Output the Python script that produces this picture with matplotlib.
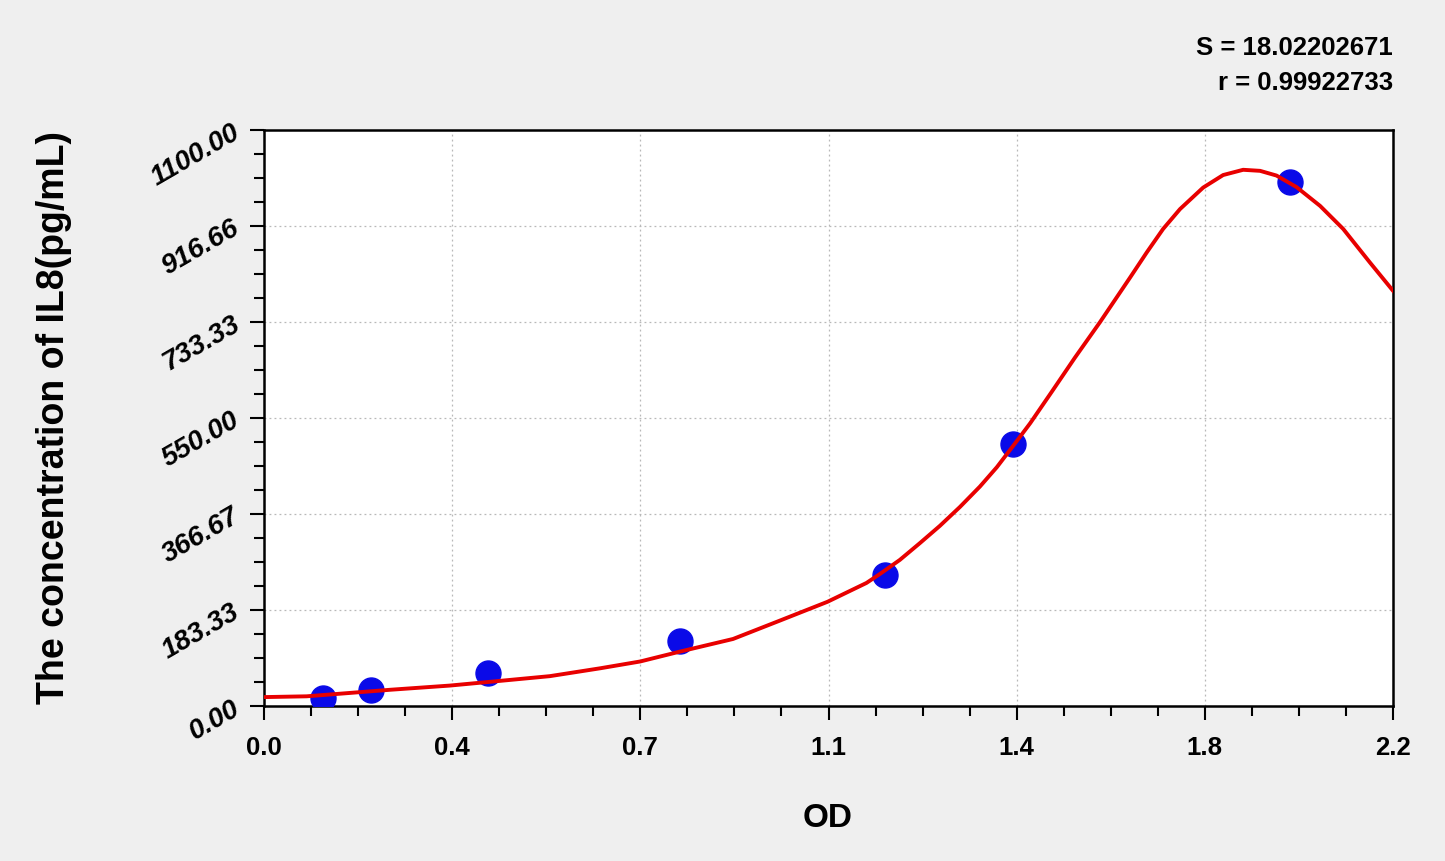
import numpy as np
import matplotlib
matplotlib.use("Agg")
import matplotlib.pyplot as plt
from matplotlib import font_manager
from matplotlib.ticker import AutoMinorLocator, FixedLocator

# standards (OD vs concentration)
od = [0.114, 0.209, 0.436, 0.811, 1.211, 1.459, 1.999]
conc = [15.63, 31.25, 62.5, 125.0, 250.0, 500.0, 1000.0]

# fitted curve
curve_od = [0.0, 0.083, 0.168, 0.246, 0.362, 0.46, 0.557, 0.655, 0.733, 0.811,
            0.914, 1.005, 1.098, 1.174, 1.200, 1.239, 1.278, 1.317, 1.356, 1.395,
            1.428, 1.460, 1.493, 1.535, 1.580, 1.629, 1.6875, 1.720, 1.752, 1.785,
            1.830, 1.869, 1.908, 1.941, 1.973, 2.012, 2.058, 2.103, 2.155, 2.2]
curve_conc = [17, 18.5, 25, 31, 39, 48, 57, 72, 85, 104,
              128, 163, 199, 235, 252, 279, 311, 344, 380, 419,
              456, 497, 540, 600, 665, 733, 818, 866, 911, 949,
              990, 1014, 1024, 1022, 1013, 991, 955, 911, 847, 793]

xtick_labels = ['0.0', '0.4', '0.7', '1.1', '1.4', '1.8', '2.2']
ytick_labels = ['0.00', '183.33', '366.67', '550.00', '733.33', '916.66', '1100.00']

S_value = '18.02202671'
r_value = '0.99922733'

names = {f.name for f in font_manager.fontManager.ttflist}
if 'Liberation Sans Narrow' in names:
    fam, k = 'Liberation Sans Narrow', 1.1
else:
    fam, k = 'Liberation Sans', 1.0
plt.rcParams['font.family'] = [fam, 'DejaVu Sans']

bg = '#efefef'
fig = plt.figure(figsize=(14.45, 8.62), dpi=100, facecolor=bg)
ax = fig.add_axes([264 / 1445, 1 - 707 / 862, 1129 / 1445, 576 / 862])
ax.set_facecolor('white')

ax.plot(od, conc, 'o', color='#0a0ae8', markersize=18, zorder=3)
ax.plot(curve_od, curve_conc, '-', color='#e80000', lw=2.8, zorder=4,
        solid_joinstyle='round')

ax.set_xlim(0, 2.2)
ax.set_ylim(0, 1100)

xt = np.linspace(0, 2.2, len(xtick_labels))
yt = np.linspace(0, 1100, len(ytick_labels))
ax.xaxis.set_major_locator(FixedLocator(xt))
ax.yaxis.set_major_locator(FixedLocator(yt))
ax.set_xticklabels(xtick_labels, fontsize=18.5 * k, fontweight='bold')
ax.set_yticklabels(ytick_labels, fontsize=20 * k, fontweight='bold', fontstyle='italic',
                   rotation=30, rotation_mode='anchor', ha='right', va='center')
ax.xaxis.set_minor_locator(AutoMinorLocator(4))
ax.yaxis.set_minor_locator(AutoMinorLocator(4))
ax.tick_params(which='major', direction='out', length=10, width=1.5, color='black')
ax.tick_params(which='minor', direction='out', length=7, width=1.5, color='black')
ax.tick_params(axis='x', which='major', pad=11)
ax.tick_params(axis='y', which='major', pad=9)

ax.grid(True, which='major', linestyle=(0, (1.5, 2.5)), color='#b8b8b8', lw=0.9)
for s in ax.spines.values():
    s.set_linewidth(1.8)
    s.set_color('black')

ax.set_xlabel('OD', fontsize=24 * k, fontweight='bold')
ax.xaxis.set_label_coords(0.4996, -0.167)
ax.set_ylabel('The concentration of IL8(pg/mL)', fontsize=27 * k, fontweight='bold')
ax.yaxis.set_label_coords(-0.170, 0.503)

fig.text(1393 / 1445, 1 - 48 / 862, f'S = {S_value}', ha='right', va='center',
         fontsize=18.5 * k, fontweight='bold')
fig.text(1393 / 1445, 1 - 83 / 862, f'r = {r_value}', ha='right', va='center',
         fontsize=18.5 * k, fontweight='bold')

fig.savefig('out.png', dpi=100, facecolor=bg)
